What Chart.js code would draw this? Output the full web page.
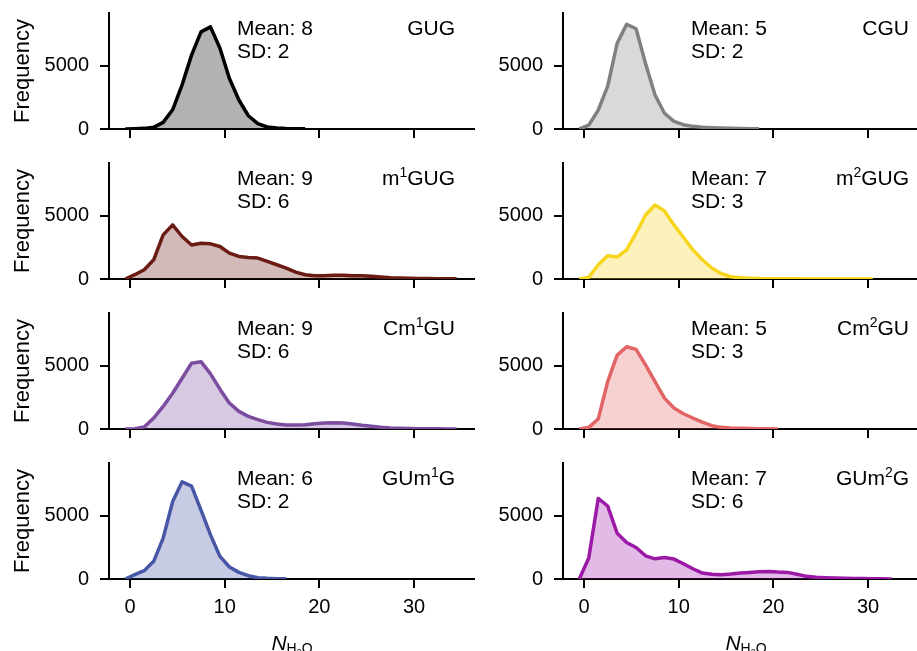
<!DOCTYPE html>
<html lang="en">
<head>
<meta charset="UTF-8">
<title>Water count distributions</title>
<script src="https://cdn.jsdelivr.net/npm/chart.js"></script>
<style>
  body { margin: 0; background: #fff; }
  #fig { position: relative; width: 917px; height: 651px; overflow: hidden; }
  .panel { position: absolute; }
</style>
</head>
<body>
<div id="fig"></div>
<script>
// bin centres (x) shared by every panel
const bins = [-0.5, 0.5, 1.5, 2.5, 3.5, 4.5, 5.5, 6.5, 7.5, 8.5, 9.5, 10.5, 11.5, 12.5,
  13.5, 14.5, 15.5, 16.5, 17.5, 18.5, 19.5, 20.5, 21.5, 22.5, 23.5, 24.5, 25.5, 26.5,
  27.5, 28.5, 29.5, 30.5, 31.5, 32.5, 33.5, 34.5];

const xTicks = [0, 10, 20, 30];
const yTicks = [0, 5000];

const names = ['GUG', 'CGU', 'm^1GUG', 'm^2GUG', 'Cm^1GU', 'Cm^2GU', 'GUm^1G', 'GUm^2G'];
const means = [8, 5, 9, 7, 9, 5, 6, 7];
const sds = [2, 2, 6, 3, 6, 3, 2, 6];
const colors = ['#000000', '#808080', '#6a1b14', '#f7d51d', '#7b4c9f', '#e36464', '#4757a6', '#9c19a8'];

// frequencies per bin
const gug = [0, 20, 50, 130, 525, 1525, 3500, 5860, 7700, 8100, 6400, 4000, 2300, 1050, 420, 160, 80, 40, 20, 10];
const cgu = [0, 300, 1500, 3400, 6800, 8300, 7950, 5200, 2700, 1250, 600, 340, 210, 140, 100, 70, 50, 30, 20, 10];
const m1gug = [0, 340, 740, 1525, 3500, 4290, 3370, 2700, 2840, 2790, 2580, 2050, 1790, 1710, 1660, 1400, 1130, 870,
  550, 340, 260, 260, 290, 290, 260, 260, 210, 160, 100, 80, 60, 40, 30, 20, 10, 10];
const m2gug = [0, 130, 1130, 1840, 1740, 2310, 3630, 5080, 5870, 5390, 4290, 3310, 2310, 1525, 870, 420, 180, 100,
  60, 30, 20, 15, 10, 10, 5, 5, 5, 5, 5, 5, 0, 0];
const cm1gu = [0, 20, 160, 870, 1790, 2840, 4020, 5210, 5340, 4370, 3160, 2050, 1400, 1000, 740, 525, 390, 315,
  315, 340, 420, 470, 500, 470, 390, 290, 210, 130, 80, 50, 30, 20, 10, 10, 5, 0];
const cm2gu = [0, 130, 790, 3760, 5860, 6520, 6310, 5080, 3760, 2450, 1660, 1210, 870, 550, 260, 130, 80, 50, 30, 20, 10, 5];
const gum1g = [0, 340, 660, 1400, 3240, 6130, 7710, 7370, 5470, 3500, 1790, 950, 525, 260, 100, 50, 20, 10];
const gum2g = [0, 1660, 6390, 5790, 3630, 2890, 2500, 1840, 1600, 1710, 1580, 1210, 815, 470, 370, 340, 390, 470,
  525, 580, 600, 550, 525, 370, 210, 130, 100, 80, 60, 40, 30, 20, 10, 5];

const series = [gug, cgu, m1gug, m2gug, cm1gu, cm2gu, gum1g, gum2g];

const FONT = "'Liberation Sans', Arial, sans-serif";
Chart.defaults.font.family = FONT;
Chart.defaults.color = '#000';

function fade(hex, a) {
  const n = parseInt(hex.slice(1), 16);
  return `rgba(${n >> 16}, ${(n >> 8) & 255}, ${n & 255}, ${a})`;
}

// text with ^n superscripts, right aligned at x
function richRight(ctx, str, x, y) {
  const parts = str.split(/\^(\d)/);
  const segs = parts.map((t, k) => ({ t, sup: k % 2 === 1 })).filter(s => s.t);
  let total = 0;
  segs.forEach(s => {
    ctx.font = (s.sup ? '14px ' : '21px ') + FONT;
    s.w = ctx.measureText(s.t).width;
    total += s.w;
  });
  let cx = x - total;
  segs.forEach(s => {
    ctx.font = (s.sup ? '14px ' : '21px ') + FONT;
    ctx.fillText(s.t, cx, s.sup ? y - 8 : y);
    cx += s.w;
  });
}

function xTitle(ctx, cx, y) {
  ctx.font = 'italic 21px ' + FONT;
  const wN = ctx.measureText('N').width;
  ctx.font = '14px ' + FONT;
  const wH = ctx.measureText('H').width, wO = ctx.measureText('O').width;
  ctx.font = '9px ' + FONT;
  const w2 = ctx.measureText('2').width;
  let x = cx - (wN + wH + w2 + wO) / 2;
  ctx.font = 'italic 21px ' + FONT;
  ctx.fillText('N', x, y); x += wN;
  ctx.font = '14px ' + FONT;
  ctx.fillText('H', x, y + 3); x += wH;
  ctx.font = '9px ' + FONT;
  ctx.fillText('2', x, y + 5); x += w2;
  ctx.font = '14px ' + FONT;
  ctx.fillText('O', x, y + 3);
}

const annot = {
  id: 'annot',
  afterDraw(chart, args, opts) {
    const { ctx, chartArea: ca } = chart;
    ctx.save();
    ctx.fillStyle = '#000';
    ctx.textBaseline = 'alphabetic';
    ctx.textAlign = 'left';
    ctx.font = '21px ' + FONT;
    ctx.fillText('Mean: ' + means[opts.i], ca.left + 128, ca.top + 22);
    ctx.fillText('SD: ' + sds[opts.i], ca.left + 128, ca.top + 45);
    richRight(ctx, names[opts.i], ca.right - 20, ca.top + 22);
    if (opts.bottom) xTitle(ctx, (ca.left + ca.right) / 2, ca.bottom + 71);
    ctx.restore();
  }
};

const fig = document.getElementById('fig');

names.forEach((name, i) => {
  const col = i % 2, row = Math.floor(i / 2);
  const bottom = row === 3;
  const w = col === 0 ? 475 : 469;
  const h = bottom ? 201 : 150;
  const wrap = document.createElement('div');
  wrap.className = 'panel';
  wrap.style.left = (col === 0 ? 0 : 460) + 'px';
  wrap.style.top = row * 150 + 'px';
  const cv = document.createElement('canvas');
  cv.width = w; cv.height = h;
  cv.style.width = w + 'px'; cv.style.height = h + 'px';
  wrap.appendChild(cv);
  fig.appendChild(wrap);

  new Chart(cv, {
    type: 'line',
    data: {
      datasets: [{
        data: series[i].map((v, k) => ({ x: bins[k], y: v })),
        borderColor: colors[i],
        backgroundColor: fade(colors[i], 0.3),
        fill: 'origin',
        borderWidth: 3.5,
        pointRadius: 0,
        tension: 0,
        borderJoinStyle: 'round'
      }]
    },
    options: {
      responsive: false,
      animation: false,
      events: [],
      layout: { padding: { top: 13, left: 0, right: 0, bottom: 0 } },
      plugins: { legend: { display: false }, tooltip: { enabled: false }, annot: { i, bottom } },
      scales: {
        x: {
          type: 'linear',
          min: -2.22,
          max: 36.44,
          afterBuildTicks: s => { s.ticks = xTicks.map(v => ({ value: v })); },
          afterFit: s => { s.height = h - 129; s.paddingLeft = 0; s.paddingRight = 0; },
          border: { color: '#000', width: 2 },
          grid: { drawOnChartArea: false, color: '#000', lineWidth: 2, tickLength: 9 },
          ticks: { color: bottom ? '#000' : 'rgba(0,0,0,0)', font: { size: 20 }, padding: 7, maxRotation: 0 }
        },
        y: {
          min: 0,
          max: 9200,
          afterBuildTicks: s => { s.ticks = yTicks.map(v => ({ value: v })); },
          afterFit: s => { s.width = col === 0 ? 109 : 103; s.paddingTop = 0; s.paddingBottom = 0; },
          border: { color: '#000', width: 2 },
          grid: { drawOnChartArea: false, color: '#000', lineWidth: 2, tickLength: 9 },
          ticks: { font: { size: 20 }, padding: 11, callback: v => String(v) },
          title: {
            display: col === 0,
            text: 'Frequency',
            font: { size: 22 },
            padding: { top: 10, bottom: 0 }
          }
        }
      }
    },
    plugins: [annot]
  });
});
</script>
</body>
</html>
